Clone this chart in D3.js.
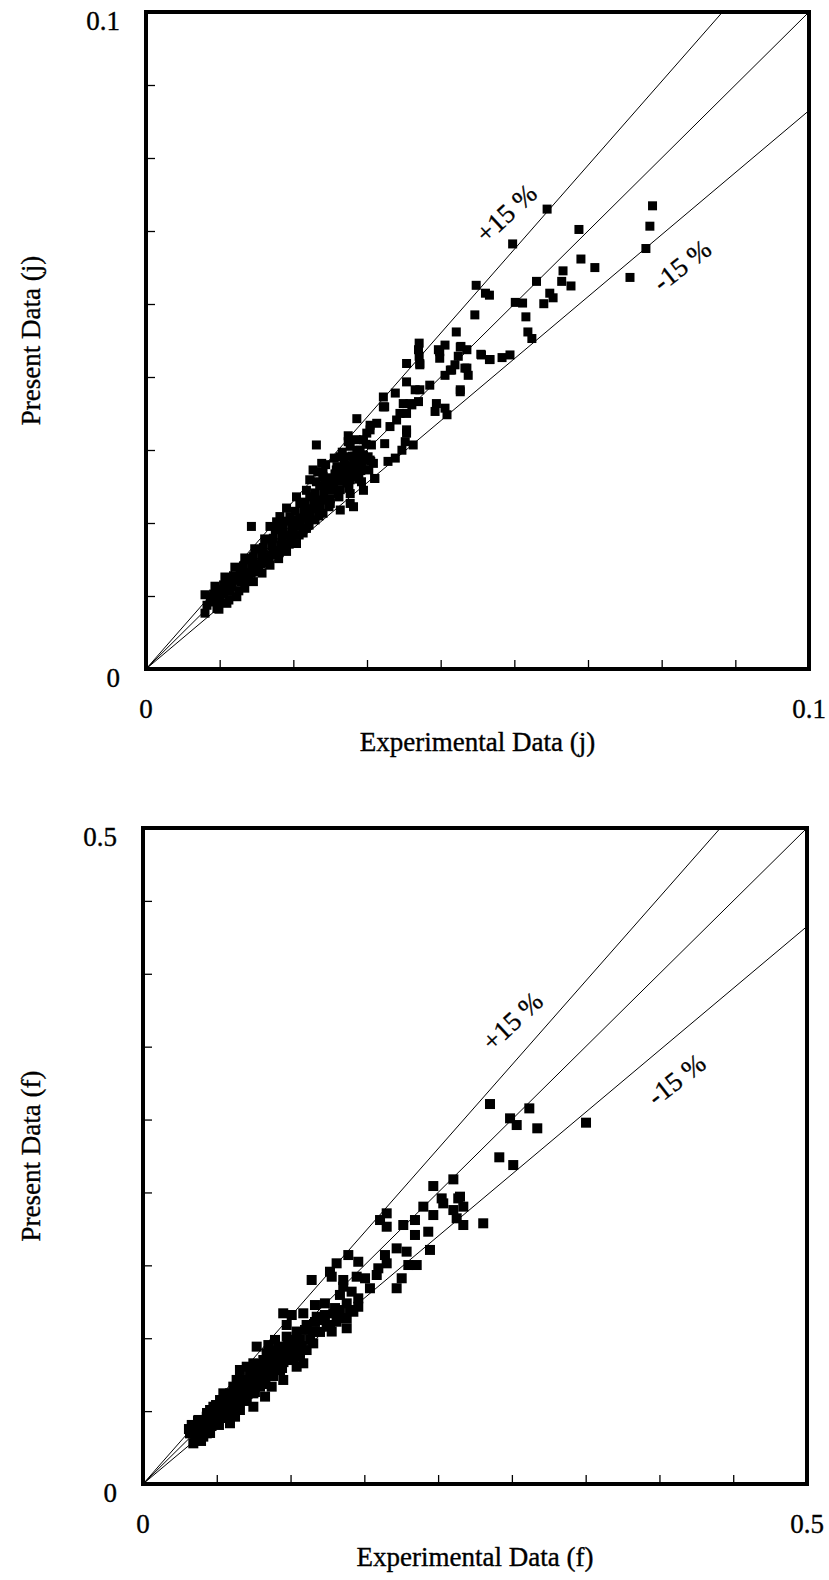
<!DOCTYPE html>
<html>
<head>
<meta charset="utf-8">
<script src="https://cdn.jsdelivr.net/npm/d3@7"></script>
<style>
  body { margin: 0; background: #fff; }
</style>
</head>
<body>
<svg id="chart" width="829" height="1580"></svg>
<script>
// colburn j factor: experimental vs present
var jExperimental = [
  0.0605, 0.0553, 0.0498, 0.0518, 0.0512, 0.0496, 0.0468, 0.0653, 0.0656, 0.0677,
  0.0629, 0.0627, 0.0641, 0.0589, 0.0557, 0.0568, 0.0600, 0.0614, 0.0573, 0.0576,
  0.0582, 0.0764, 0.0760, 0.0754, 0.0730, 0.0549, 0.0537, 0.0518, 0.0505, 0.0484,
  0.0475, 0.0443, 0.0411, 0.0459, 0.0484, 0.0609, 0.0412, 0.0412, 0.0413, 0.0441,
  0.0451, 0.0443, 0.0474, 0.0506, 0.0519, 0.0471, 0.0466, 0.0461, 0.0451, 0.0481,
  0.0486, 0.0428, 0.0413, 0.0393, 0.0474, 0.0438, 0.0451, 0.0454, 0.0436, 0.0411,
  0.0401, 0.0388, 0.0393, 0.0376, 0.0358, 0.0360, 0.0383, 0.0378, 0.0368, 0.0338,
  0.0318, 0.0333, 0.0305, 0.0257, 0.0340, 0.0360, 0.0393, 0.0391, 0.0403, 0.0335,
  0.0343, 0.0365, 0.0376, 0.0298, 0.0305, 0.0318, 0.0325, 0.0345, 0.0265, 0.0252,
  0.0267, 0.0283, 0.0293, 0.0393, 0.0413, 0.0474, 0.0406, 0.0398, 0.0393, 0.0386,
  0.0159, 0.0275, 0.0308, 0.0293, 0.0242,
  0.0092, 0.0089, 0.0102, 0.0107, 0.0117, 0.0122, 0.0129, 0.0137, 0.0142, 0.0149,
  0.0154, 0.0162, 0.0167, 0.0175, 0.0179, 0.0187, 0.0192, 0.0190, 0.0200, 0.0205,
  0.0212, 0.0217, 0.0222, 0.0227, 0.0232, 0.0237, 0.0247, 0.0255, 0.0260, 0.0267,
  0.0278, 0.0290, 0.0303, 0.0298, 0.0313, 0.0320, 0.0328, 0.0338, 0.0212, 0.0197,
  0.0187, 0.0202, 0.0227, 0.0242, 0.0257, 0.0267, 0.0288, 0.0293, 0.0318, 0.0328,
  0.0338, 0.0348, 0.0358, 0.0247, 0.0232, 0.0217, 0.0278, 0.0308, 0.0313, 0.0345,
  0.0142, 0.0127, 0.0112, 0.0159, 0.0175, 0.0097,
  0.0089, 0.0100, 0.0110, 0.0104, 0.0115, 0.0125, 0.0119, 0.0130, 0.0140, 0.0134,
  0.0145, 0.0155, 0.0149, 0.0160, 0.0170, 0.0164, 0.0175, 0.0186, 0.0179, 0.0190,
  0.0201, 0.0195, 0.0205, 0.0216, 0.0210, 0.0220, 0.0231, 0.0225, 0.0235, 0.0246,
  0.0240, 0.0250, 0.0261, 0.0255, 0.0265, 0.0276, 0.0270, 0.0281, 0.0291, 0.0285,
  0.0296, 0.0306, 0.0300, 0.0311, 0.0321, 0.0315, 0.0326, 0.0336,
  0.0102, 0.0112, 0.0117, 0.0127, 0.0132, 0.0143, 0.0147, 0.0158, 0.0162, 0.0173,
  0.0177, 0.0188, 0.0192, 0.0203, 0.0207, 0.0218, 0.0222, 0.0233, 0.0238, 0.0248,
  0.0253, 0.0263, 0.0268, 0.0278, 0.0283, 0.0293, 0.0298, 0.0308, 0.0313, 0.0324,
  0.0328, 0.0339,
  0.0247, 0.0259, 0.0271, 0.0284, 0.0296, 0.0308, 0.0262, 0.0275, 0.0287, 0.0299,
  0.0311, 0.0323, 0.0332, 0.0317, 0.0305
];
var jPresent = [
  0.0700, 0.0647, 0.0584, 0.0569, 0.0572, 0.0539, 0.0513, 0.0669, 0.0624, 0.0611,
  0.0606, 0.0590, 0.0583, 0.0590, 0.0558, 0.0557, 0.0556, 0.0565, 0.0536, 0.0513,
  0.0503, 0.0705, 0.0674, 0.0640, 0.0596, 0.0478, 0.0474, 0.0471, 0.0479, 0.0486,
  0.0491, 0.0483, 0.0486, 0.0455, 0.0458, 0.0572, 0.0496, 0.0476, 0.0463, 0.0486,
  0.0493, 0.0473, 0.0490, 0.0478, 0.0471, 0.0476, 0.0463, 0.0455, 0.0447, 0.0458,
  0.0447, 0.0432, 0.0425, 0.0437, 0.0422, 0.0404, 0.0397, 0.0387, 0.0392, 0.0407,
  0.0402, 0.0404, 0.0389, 0.0420, 0.0414, 0.0399, 0.0389, 0.0379, 0.0369, 0.0371,
  0.0381, 0.0359, 0.0346, 0.0341, 0.0341, 0.0343, 0.0359, 0.0346, 0.0341, 0.0323,
  0.0313, 0.0316, 0.0321, 0.0323, 0.0308, 0.0298, 0.0285, 0.0290, 0.0313, 0.0303,
  0.0293, 0.0288, 0.0298, 0.0465, 0.0465, 0.0425, 0.0425, 0.0404, 0.0364, 0.0333,
  0.0217, 0.0276, 0.0252, 0.0242, 0.0214,
  0.0097, 0.0085, 0.0105, 0.0092, 0.0115, 0.0100, 0.0125, 0.0110, 0.0135, 0.0123,
  0.0146, 0.0133, 0.0158, 0.0146, 0.0171, 0.0158, 0.0181, 0.0196, 0.0168, 0.0191,
  0.0179, 0.0204, 0.0217, 0.0191, 0.0229, 0.0207, 0.0242, 0.0227, 0.0257, 0.0237,
  0.0252, 0.0267, 0.0283, 0.0303, 0.0308, 0.0293, 0.0272, 0.0318, 0.0245, 0.0224,
  0.0217, 0.0232, 0.0262, 0.0272, 0.0285, 0.0298, 0.0308, 0.0323, 0.0333, 0.0349,
  0.0364, 0.0374, 0.0399, 0.0262, 0.0252, 0.0232, 0.0283, 0.0267, 0.0247, 0.0290,
  0.0151, 0.0135, 0.0120, 0.0166, 0.0181, 0.0110,
  0.0113, 0.0102, 0.0091, 0.0126, 0.0116, 0.0105, 0.0140, 0.0129, 0.0119, 0.0155,
  0.0145, 0.0134, 0.0169, 0.0158, 0.0148, 0.0183, 0.0172, 0.0161, 0.0198, 0.0187,
  0.0177, 0.0212, 0.0201, 0.0190, 0.0225, 0.0215, 0.0204, 0.0240, 0.0230, 0.0219,
  0.0254, 0.0244, 0.0233, 0.0268, 0.0257, 0.0247, 0.0283, 0.0272, 0.0262, 0.0297,
  0.0286, 0.0275, 0.0311, 0.0300, 0.0289, 0.0324, 0.0314, 0.0303,
  0.0114, 0.0103, 0.0128, 0.0118, 0.0142, 0.0132, 0.0157, 0.0146, 0.0171, 0.0160,
  0.0185, 0.0174, 0.0199, 0.0188, 0.0213, 0.0203, 0.0227, 0.0217, 0.0242, 0.0231,
  0.0256, 0.0245, 0.0270, 0.0259, 0.0284, 0.0273, 0.0298, 0.0288, 0.0312, 0.0302,
  0.0326, 0.0316,
  0.0288, 0.0300, 0.0311, 0.0321, 0.0330, 0.0339, 0.0279, 0.0291, 0.0303, 0.0314,
  0.0324, 0.0333, 0.0342, 0.0349, 0.0355
];

// fanning friction factor: experimental vs present
var fExperimental = [
  0.2613, 0.2764, 0.2814, 0.2909, 0.2969, 0.3336, 0.2683, 0.2788, 0.2186, 0.2337,
  0.2387, 0.2249, 0.2111, 0.2186, 0.2261, 0.2374, 0.2337, 0.2412, 0.2362, 0.2412,
  0.2562, 0.2048, 0.2048, 0.2148, 0.2161, 0.1960, 0.1835, 0.1785, 0.1835, 0.1910,
  0.1985, 0.1822, 0.1835, 0.1772, 0.1760, 0.1998, 0.2061, 0.1948, 0.1910, 0.1546,
  0.1458, 0.1621, 0.1408, 0.1421, 0.1270, 0.1508, 0.1609, 0.1672, 0.1709, 0.1508,
  0.1571, 0.1483, 0.1621, 0.1534, 0.1621, 0.1584, 0.1534, 0.1458, 0.1534, 0.1421,
  0.1056, 0.1120, 0.1082, 0.1207, 0.1295, 0.1370, 0.1308, 0.1232, 0.1346, 0.1383,
  0.1282, 0.1157, 0.1182, 0.1282, 0.1232, 0.1182, 0.1157, 0.1082, 0.1032, 0.1094,
  0.0856, 0.0944, 0.1007, 0.0969, 0.1032, 0.1056, 0.0969, 0.0906, 0.0831, 0.0806,
  0.0881, 0.0881, 0.0919, 0.0831, 0.0831, 0.0755, 0.0730, 0.0781, 0.0730, 0.0655,
  0.0693, 0.0655, 0.0680, 0.0605, 0.0630, 0.0580, 0.0555, 0.0530, 0.0480, 0.0454,
  0.0417, 0.0392, 0.0404, 0.0379, 0.0454, 0.0480, 0.0354, 0.0367, 0.0505, 0.0580,
  0.0730, 0.0781, 0.0931, 0.0994, 0.0981, 0.0806, 0.0705, 0.0705, 0.1132, 0.1207,
  0.1433, 0.1483,
  0.0346, 0.0392, 0.0437, 0.0414, 0.0459, 0.0505, 0.0482, 0.0527, 0.0572, 0.0550,
  0.0595, 0.0640, 0.0617, 0.0663, 0.0708, 0.0685, 0.0730, 0.0776, 0.0753, 0.0798,
  0.0843, 0.0821, 0.0866, 0.0911, 0.0889, 0.0934, 0.0979, 0.0956, 0.1001, 0.1047,
  0.1024, 0.1069, 0.1114, 0.1092, 0.1137, 0.1182,
  0.0403, 0.0448, 0.0471, 0.0516, 0.0538, 0.0584, 0.0606, 0.0651, 0.0674, 0.0719,
  0.0742, 0.0787, 0.0809, 0.0855, 0.0877, 0.0922, 0.0945, 0.0990, 0.1013, 0.1058,
  0.1081, 0.1126, 0.1148, 0.1194,
  0.1220, 0.1295, 0.1370, 0.1446, 0.1258, 0.1333, 0.1408, 0.1483, 0.1559
];
var fPresent = [
  0.2896, 0.2787, 0.2736, 0.2863, 0.2711, 0.2754, 0.2490, 0.2431, 0.2271, 0.2322,
  0.2190, 0.2177, 0.2114, 0.2050, 0.2139, 0.2177, 0.2088, 0.2114, 0.2025, 0.1974,
  0.1987, 0.2012, 0.1898, 0.1923, 0.1784, 0.1974, 0.1961, 0.2012, 0.2063, 0.1796,
  0.1771, 0.1745, 0.1682, 0.1644, 0.1593, 0.1669, 0.1669, 0.1568, 0.1492, 0.1745,
  0.1682, 0.1694, 0.1618, 0.1580, 0.1555, 0.1555, 0.1580, 0.1568, 0.1492, 0.1504,
  0.1466, 0.1441, 0.1415, 0.1377, 0.1351, 0.1313, 0.1263, 0.1237, 0.1187, 0.1162,
  0.1301, 0.1288, 0.1212, 0.1301, 0.1364, 0.1377, 0.1275, 0.1212, 0.1250, 0.1199,
  0.1162, 0.1162, 0.1098, 0.1072, 0.1021, 0.0970, 0.0894, 0.1123, 0.1047, 0.0996,
  0.1047, 0.1059, 0.0945, 0.0882, 0.0869, 0.0793, 0.0742, 0.0945, 0.0920, 0.0844,
  0.0818, 0.0742, 0.0666, 0.0691, 0.0589, 0.0793, 0.0716, 0.0640, 0.0564, 0.0463,
  0.0513, 0.0691, 0.0742, 0.0691, 0.0615, 0.0539, 0.0463, 0.0589, 0.0513, 0.0437,
  0.0488, 0.0437, 0.0361, 0.0310, 0.0361, 0.0386, 0.0386, 0.0450, 0.0564, 0.0640,
  0.0869, 0.0894, 0.0996, 0.1098, 0.1021, 0.0742, 0.0640, 0.0793, 0.0945, 0.0920,
  0.1301, 0.1326,
  0.0419, 0.0373, 0.0328, 0.0480, 0.0434, 0.0389, 0.0541, 0.0495, 0.0450, 0.0602,
  0.0556, 0.0511, 0.0663, 0.0617, 0.0572, 0.0724, 0.0678, 0.0633, 0.0793, 0.0747,
  0.0701, 0.0854, 0.0808, 0.0762, 0.0915, 0.0869, 0.0823, 0.0976, 0.0930, 0.0884,
  0.1037, 0.0991, 0.0945, 0.1098, 0.1052, 0.1006,
  0.0427, 0.0381, 0.0488, 0.0442, 0.0549, 0.0503, 0.0609, 0.0563, 0.0670, 0.0624,
  0.0731, 0.0685, 0.0792, 0.0746, 0.0853, 0.0807, 0.0914, 0.0868, 0.0975, 0.0929,
  0.1036, 0.0990, 0.1097, 0.1051,
  0.1174, 0.1235, 0.1288, 0.1341, 0.1098, 0.1159, 0.1212, 0.1265, 0.1326
];

var jTickLabels = ["0", "0.1"];
var fTickLabels = ["0", "0.5"];
var bandFactors = [1.15, 1, 0.85];
var bandLabels = ["+15 %", "-15 %"];
var jLabelSpots = [[0.0543, 0.0694], [0.0808, 0.0615]];
var fLabelSpots = [[0.278, 0.353], [0.4015, 0.3085]];

var FONT = "'Liberation Serif', 'Times New Roman', Times, serif";

var svg = d3.select("#chart");

function drawPanel(p) {
  var g = svg.append("g").attr("transform", "translate(" + p.left + "," + p.top + ")");
  var max = +p.tickLabels[1];

  var x = d3.scaleLinear().domain([0, max]).range([0, p.width]);
  var y = d3.scaleLinear().domain([0, max]).range([p.height, 0]);

  var tickVals = d3.range(1, 9).map(function(i) { return i * max / 9; });

  g.append("clipPath").attr("id", p.id + "-clip")
    .append("rect").attr("width", p.width).attr("height", p.height);

  // inward ticks, left and bottom only
  g.append("g")
    .attr("transform", "translate(0," + p.height + ")")
    .call(d3.axisBottom(x).tickValues(tickVals).tickSize(-9).tickFormat(""))
    .call(function(a) { a.select(".domain").remove(); a.selectAll("line").attr("stroke-width", 1.3); });
  g.append("g")
    .call(d3.axisLeft(y).tickValues(tickVals).tickSize(-9).tickFormat(""))
    .call(function(a) { a.select(".domain").remove(); a.selectAll("line").attr("stroke-width", 1.3); });

  // +15 %, 0, -15 % reference lines
  var line = d3.line().x(function(d) { return x(d[0]); }).y(function(d) { return y(d[1]); });
  g.append("g").attr("clip-path", "url(#" + p.id + "-clip)")
    .selectAll("path")
    .data(bandFactors)
    .enter()
    .append("path")
    .attr("d", function(k) { return line([[0, 0], [max, max * k]]); })
    .attr("fill", "none")
    .attr("stroke", "#000")
    .attr("stroke-width", 1);

  // data squares
  var pts = p.xs.map(function(v, i) { return [v, p.ys[i]]; });
  g.append("g").selectAll("rect")
    .data(pts)
    .enter()
    .append("rect")
    .attr("x", function(d) { return x(d[0]) - p.size / 2; })
    .attr("y", function(d) { return y(d[1]) - p.size / 2; })
    .attr("width", p.size)
    .attr("height", p.size)
    .attr("fill", "#000");

  // frame
  g.append("rect")
    .attr("width", p.width).attr("height", p.height)
    .attr("fill", "none").attr("stroke", "#000").attr("stroke-width", 4);

  function label(sel) {
    sel.attr("font-family", FONT)
      .attr("font-size", 27)
      .attr("fill", "#000")
      .attr("stroke", "#000")
      .attr("stroke-width", 0.35);
  }

  // band labels
  var angles = [-43, -38];
  g.selectAll(".band-label")
    .data(bandLabels)
    .enter()
    .append("text")
    .attr("class", "band-label")
    .call(label)
    .attr("text-anchor", "middle")
    .attr("dy", "0.35em")
    .attr("transform", function(d, i) {
      return "translate(" + x(p.spots[i][0]) + "," + y(p.spots[i][1]) + ") rotate(" + angles[i] + ")";
    })
    .text(function(d) { return d; });

  // tick labels at 0 and max
  g.selectAll(".ylab")
    .data(p.tickLabels)
    .enter()
    .append("text")
    .attr("class", "ylab")
    .call(label)
    .attr("text-anchor", "end")
    .attr("x", -26)
    .attr("y", function(d) { return y(+d) + 18; })
    .text(function(d) { return d; });
  g.selectAll(".xlab")
    .data(p.tickLabels)
    .enter()
    .append("text")
    .attr("class", "xlab")
    .call(label)
    .attr("text-anchor", "middle")
    .attr("x", function(d) { return x(+d); })
    .attr("y", p.height + 49)
    .text(function(d) { return d; });

  // axis titles
  g.append("text")
    .call(label)
    .attr("text-anchor", "middle")
    .attr("x", p.width / 2)
    .attr("y", p.height + 82)
    .text(p.xTitle);
  g.append("text")
    .call(label)
    .attr("text-anchor", "middle")
    .attr("transform", "translate(" + (40 - p.left) + "," + (p.height / 2) + ") rotate(-90)")
    .text(p.yTitle);
}

drawPanel({
  id: "j", left: 146, top: 12, width: 663, height: 657, size: 9,
  xs: jExperimental, ys: jPresent, tickLabels: jTickLabels, spots: jLabelSpots,
  xTitle: "Experimental Data (j)", yTitle: "Present Data (j)"
});
drawPanel({
  id: "f", left: 143, top: 828, width: 664, height: 656, size: 10,
  xs: fExperimental, ys: fPresent, tickLabels: fTickLabels, spots: fLabelSpots,
  xTitle: "Experimental Data (f)", yTitle: "Present Data (f)"
});
</script>
</body>
</html>
